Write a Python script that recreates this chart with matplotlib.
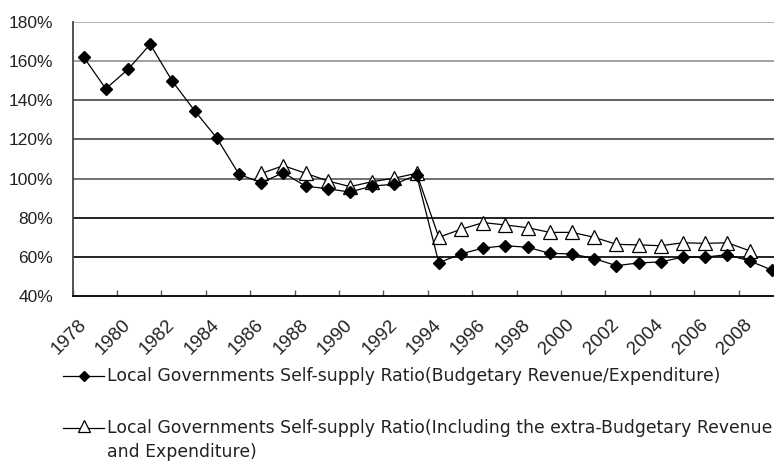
import matplotlib
matplotlib.use("Agg")
import matplotlib.pyplot as plt
from matplotlib.lines import Line2D
import numpy as np

years = list(range(1978, 2010))
budgetary = [162.1, 145.9, 155.8, 168.6, 149.7, 134.7, 120.7, 102.2, 97.9, 103.0,
             96.1, 94.8, 93.1, 96.2, 97.1, 101.8, 57.0, 61.5, 64.5, 65.7,
             64.9, 61.8, 61.5, 59.1, 55.5, 56.9, 57.4, 59.9, 59.9, 61.1,
             57.9, 53.3]
incl_years = list(range(1986, 2009))
including_extra = [102.6, 106.6, 102.7, 98.8, 95.9, 98.4, 100.2, 102.7, 70.0, 74.1,
                   77.5, 76.3, 74.9, 72.5, 72.5, 70.0, 66.4, 66.1, 65.7, 67.2,
                   66.9, 67.2, 63.1]
ytick_vals = [40, 60, 80, 100, 120, 140, 160, 180]
ytick_labels = ["40%", "60%", "80%", "100%", "120%", "140%", "160%", "180%"]
label1 = "Local Governments Self-supply Ratio(Budgetary Revenue/Expenditure)"
label2 = "Local Governments Self-supply Ratio(Including the extra-Budgetary Revenue\nand Expenditure)"

W, H = 774, 461
fig = plt.figure(figsize=(W / 100, H / 100), dpi=100)
ax = fig.add_axes([72.5 / W, (H - 296) / H, 710.4 / W, 274 / H])

x1 = np.array([years.index(y) for y in years])
x2 = np.array([years.index(y) for y in incl_years])

ax.plot(x2, including_extra, color="black", lw=0.9, marker="^", markersize=9.5,
        markerfacecolor="white", markeredgecolor="black", markeredgewidth=0.9, zorder=3)
ax.plot(x1, budgetary, color="black", lw=0.9, marker="D", markersize=6.5,
        markerfacecolor="black", markeredgecolor="black", zorder=4)

ax.set_xlim(-0.5, len(years) - 0.5)
ax.set_ylim(40, 180)

# gridlines
grid_colors = {60: "#111111", 80: "#111111", 100: "#666666", 120: "#555555",
               140: "#555555", 160: "#999999", 180: "#aaaaaa"}
for v, c in grid_colors.items():
    ax.axhline(v, color=c, lw=1.3, zorder=1)

ax.set_yticks(ytick_vals)
ax.set_yticklabels(ytick_labels, fontsize=12.5, family="Liberation Sans", color="#222222")
ax.tick_params(axis="y", length=0, pad=14)

# x: tick marks at category boundaries every 2, labels at even-year centres
bounds = np.arange(-0.5, len(years), 2)
ax.set_xticks(bounds)
ax.set_xticklabels([])
ax.tick_params(axis="x", which="major", direction="in", length=4, color="#555555", width=1)
centers = [years.index(y) for y in years if y % 2 == 0]
ax.set_xticks(centers, minor=True)
ax.set_xticklabels([str(years[c]) for c in centers], minor=True, fontsize=13.5,
                   family="Liberation Sans", rotation=45, ha="right", va="center",
                   rotation_mode="anchor", color="#222222")
ax.tick_params(axis="x", which="minor", length=0, pad=19)

for s in ["top", "right"]:
    ax.spines[s].set_visible(False)
ax.spines["left"].set_color("#444444")
ax.spines["left"].set_linewidth(1.3)
ax.spines["bottom"].set_color("black")
ax.spines["bottom"].set_linewidth(1.3)

# manual legend
def fx(px):
    return px / W

def fy(py):
    return (H - py) / H

lg_font = dict(fontsize=12.4, family=["DejaVu Sans"], color="#222222")
fig.add_artist(Line2D([fx(63), fx(104)], [fy(376), fy(376)], color="black", lw=0.9,
                      transform=fig.transFigure))
fig.add_artist(Line2D([fx(84)], [fy(376)], color="black", marker="D", markersize=5.5,
                      transform=fig.transFigure))
fig.text(fx(107), fy(376), label1, ha="left", va="center", **lg_font)
fig.add_artist(Line2D([fx(63), fx(104)], [fy(428), fy(428)], color="black", lw=0.9,
                      transform=fig.transFigure))
fig.add_artist(Line2D([fx(84)], [fy(426)], color="black", marker="^", markersize=8,
                      markerfacecolor="white", markeredgewidth=0.9,
                      transform=fig.transFigure))
fig.text(fx(107), fy(428), label2.split("\n")[0], ha="left", va="center", **lg_font)
fig.text(fx(107), fy(452), label2.split("\n")[1], ha="left", va="center", **lg_font)

fig.savefig("out.png", dpi=100)
